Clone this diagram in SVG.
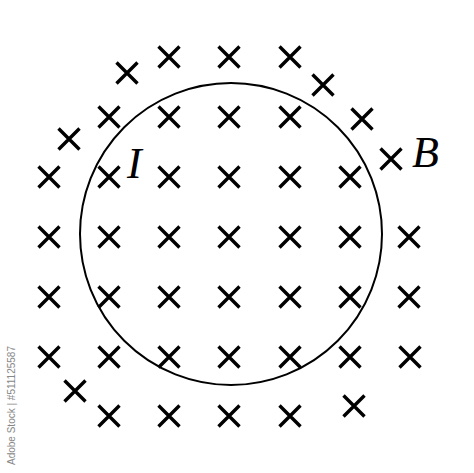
<svg xmlns="http://www.w3.org/2000/svg" xmlns:xlink="http://www.w3.org/1999/xlink" width="474" height="473" viewBox="0 0 474 473">
<style>
.x{stroke:#000;stroke-width:3.4;fill:none}
.lbl{font-family:"Liberation Serif","Times New Roman",serif;font-style:italic;font-size:44px;fill:#000}
.wm{font-family:"Liberation Sans",Arial,sans-serif;font-size:10px;fill:#888}
</style>
<defs>
<path id="c" class="x" d="M-10.5,-10.5L10.5,10.5M10.5,-10.5L-10.5,10.5"/>
</defs>
<rect width="474" height="473" fill="#fff"/>
<circle id="loop" cx="231" cy="234" r="151" fill="none" stroke="#000" stroke-width="2"/>
<g id="field">
<use xlink:href="#c" x="169" y="57"/><use xlink:href="#c" x="229" y="57"/><use xlink:href="#c" x="290" y="57"/>
<use xlink:href="#c" x="127" y="73"/><use xlink:href="#c" x="323" y="85"/>
<use xlink:href="#c" x="109" y="117"/><use xlink:href="#c" x="169" y="117"/><use xlink:href="#c" x="229" y="117"/><use xlink:href="#c" x="290" y="117"/>
<use xlink:href="#c" x="362" y="119"/><use xlink:href="#c" x="69" y="139"/><use xlink:href="#c" x="391" y="159"/>
<use xlink:href="#c" x="49" y="177"/><use xlink:href="#c" x="109" y="177"/><use xlink:href="#c" x="169" y="177"/><use xlink:href="#c" x="229" y="177"/><use xlink:href="#c" x="290" y="177"/><use xlink:href="#c" x="350" y="177"/>
<use xlink:href="#c" x="49" y="237"/><use xlink:href="#c" x="109" y="237"/><use xlink:href="#c" x="169" y="237"/><use xlink:href="#c" x="229" y="237"/><use xlink:href="#c" x="290" y="237"/><use xlink:href="#c" x="350" y="237"/><use xlink:href="#c" x="409" y="237"/>
<use xlink:href="#c" x="49" y="297"/><use xlink:href="#c" x="109" y="297"/><use xlink:href="#c" x="169" y="297"/><use xlink:href="#c" x="229" y="297"/><use xlink:href="#c" x="290" y="297"/><use xlink:href="#c" x="350" y="297"/><use xlink:href="#c" x="409" y="297"/>
<use xlink:href="#c" x="49" y="357"/><use xlink:href="#c" x="109" y="357"/><use xlink:href="#c" x="169" y="357"/><use xlink:href="#c" x="229" y="357"/><use xlink:href="#c" x="290" y="357"/><use xlink:href="#c" x="350" y="357"/><use xlink:href="#c" x="410" y="357"/>
<use xlink:href="#c" x="75" y="391"/><use xlink:href="#c" x="354" y="406"/>
<use xlink:href="#c" x="109" y="416"/><use xlink:href="#c" x="169" y="416"/><use xlink:href="#c" x="229" y="416"/><use xlink:href="#c" x="290" y="416"/>
</g>
<text class="lbl" x="127" y="178">I</text>
<text class="lbl" x="412" y="167">B</text>
<text class="wm" transform="translate(15,465) rotate(-90)">Adobe Stock | #511125587</text>
</svg>
